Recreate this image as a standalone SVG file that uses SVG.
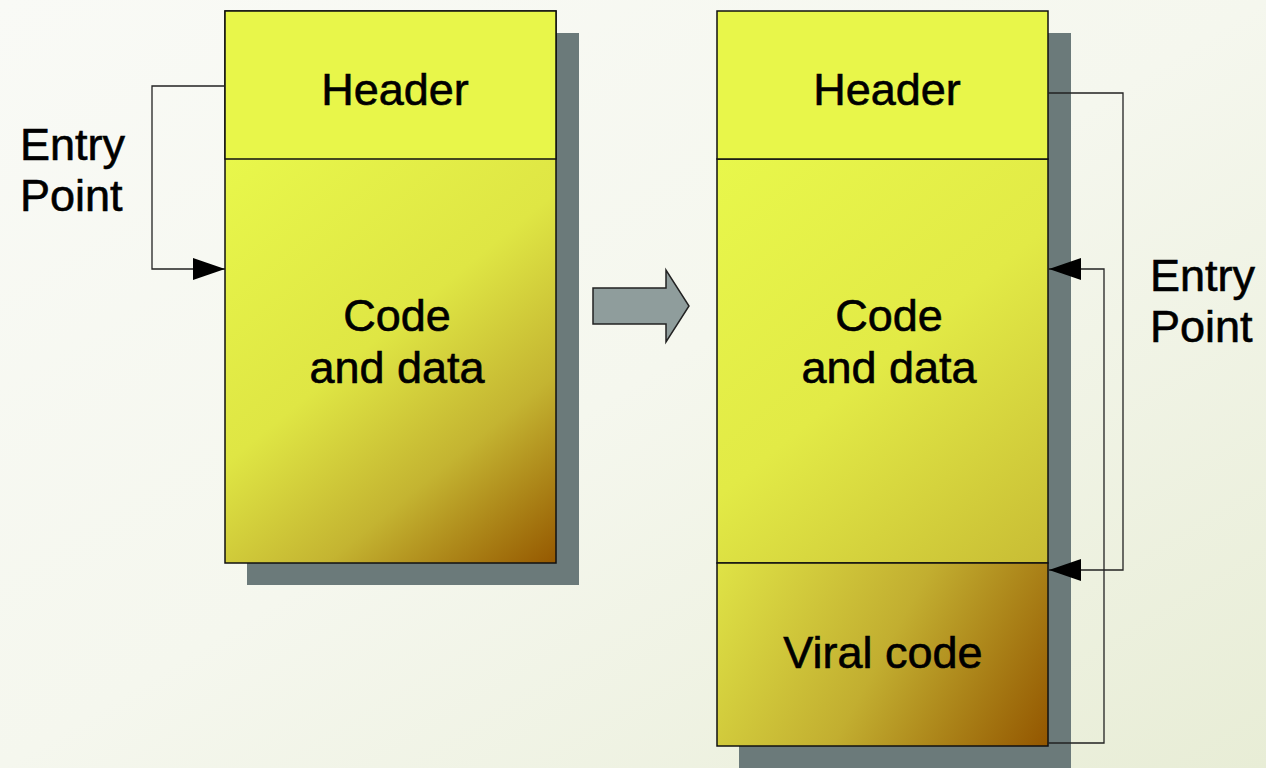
<svg xmlns="http://www.w3.org/2000/svg" width="1266" height="768" viewBox="0 0 1266 768">
  <defs>
    <linearGradient id="bg" x1="0" y1="0" x2="1" y2="1">
      <stop offset="0" stop-color="#f9faf6"/>
      <stop offset="0.5" stop-color="#f5f7ee"/>
      <stop offset="1" stop-color="#e8edd6"/>
    </linearGradient>
    <linearGradient id="fillL" gradientUnits="userSpaceOnUse" x1="225" y1="160" x2="556" y2="563">
      <stop offset="0" stop-color="#e8f74b"/>
      <stop offset="0.45" stop-color="#dfe644"/>
      <stop offset="0.72" stop-color="#c4b431"/>
      <stop offset="1" stop-color="#955800"/>
    </linearGradient>
    <linearGradient id="fillR" gradientUnits="userSpaceOnUse" x1="717" y1="160" x2="1048" y2="563">
      <stop offset="0" stop-color="#e8f74b"/>
      <stop offset="0.5" stop-color="#e2ea46"/>
      <stop offset="1" stop-color="#c8bc34"/>
    </linearGradient>
    <linearGradient id="fillV" gradientUnits="userSpaceOnUse" x1="717" y1="563" x2="1048" y2="746">
      <stop offset="0" stop-color="#dfe346"/>
      <stop offset="0.5" stop-color="#c2ae30"/>
      <stop offset="1" stop-color="#935600"/>
    </linearGradient>
    <marker id="arrow" viewBox="0 0 32 22" refX="32" refY="11" markerWidth="32" markerHeight="22" markerUnits="userSpaceOnUse" orient="auto">
      <path d="M0,0 L32,11 L0,22 Z" fill="#000"/>
    </marker>
    <style>
      .shadow { fill: #6b7a7a; }
      .box { stroke: #111; stroke-width: 1.5; }
      .header { fill: #e8f64a; stroke: #111; stroke-width: 1.5; }
      .lbl { font-family: "Liberation Sans", Arial, sans-serif; font-size: 45px; fill: #000; stroke: #000; stroke-width: 0.6; }
      .mid { text-anchor: middle; }
      .conn { fill: none; stroke: #222; stroke-width: 1.3; }
    </style>
  </defs>

  <rect width="1266" height="768" fill="url(#bg)"/>

  <!-- original file layout -->
  <g id="file-before">
    <rect class="shadow" x="247" y="33" width="332" height="552"/>
    <rect class="box" x="225" y="11" width="331" height="552" fill="url(#fillL)"/>
    <rect class="header" x="225" y="11" width="331" height="148"/>
    <text class="lbl mid" x="395" y="105">Header</text>
    <text class="lbl mid" x="397" y="331">Code</text>
    <text class="lbl mid" x="397" y="383">and data</text>
  </g>

  <!-- infected file layout -->
  <g id="file-after">
    <rect class="shadow" x="739" y="33" width="332" height="740"/>
    <rect class="box" x="717" y="159" width="331" height="404" fill="url(#fillR)"/>
    <rect class="box" x="717" y="563" width="331" height="183" fill="url(#fillV)"/>
    <rect class="header" x="717" y="11" width="331" height="148"/>
    <text class="lbl mid" x="887" y="105">Header</text>
    <text class="lbl mid" x="889" y="331">Code</text>
    <text class="lbl mid" x="889" y="383">and data</text>
    <text class="lbl mid" x="883" y="668">Viral code</text>
  </g>

  <!-- transformation arrow -->
  <g id="transform-arrow">
    <path d="M593,288 L666,288 L666,270 L689,306 L666,342 L666,324 L593,324 Z" fill="#8f9d9c" stroke="#222" stroke-width="1.5" stroke-linejoin="miter"/>
  </g>

  <g id="label-left">
    <text class="lbl" x="20" y="160">Entry</text>
    <text class="lbl" x="20" y="211">Point</text>
  </g>
  <g id="label-right">
    <text class="lbl" x="1150" y="291">Entry</text>
    <text class="lbl" x="1150" y="342">Point</text>
  </g>

  <!-- connectors -->
  <g id="connectors">
    <path class="conn" d="M225,86 H152 V269 H225" marker-end="url(#arrow)"/>
    <path class="conn" d="M1048,93 H1123 V570 H1049" marker-end="url(#arrow)"/>
    <path class="conn" d="M1048,743 H1104 V269 H1049" marker-end="url(#arrow)"/>
  </g>
</svg>
